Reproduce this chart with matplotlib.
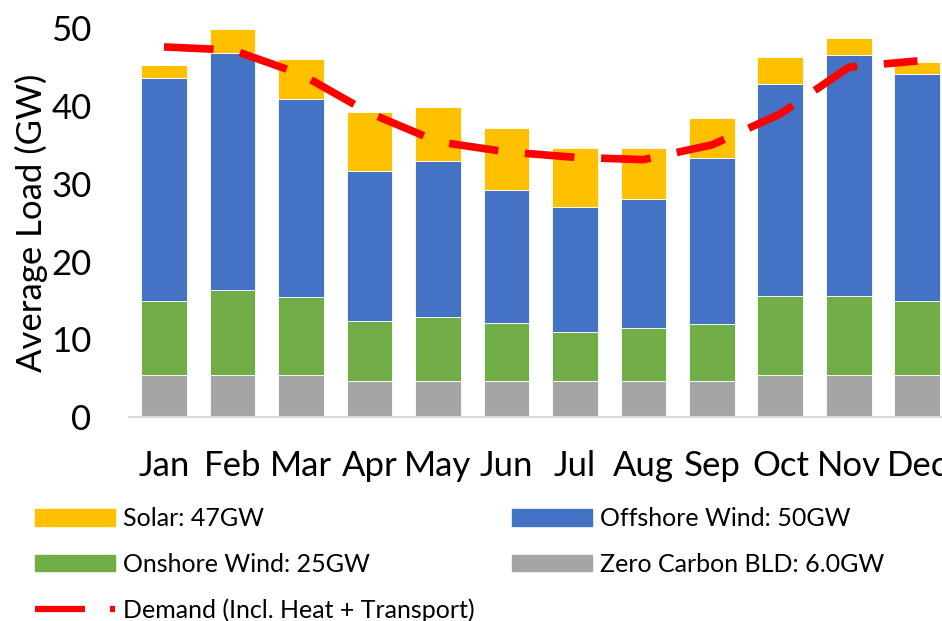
import numpy as np
import matplotlib
matplotlib.use("Agg")
import matplotlib.pyplot as plt
from matplotlib.patches import Patch
from matplotlib.lines import Line2D

plt.rcParams['font.family'] = ['Lato', 'DejaVu Sans']

# Monthly average load (GW), stacked segments
months = ["Jan", "Feb", "Mar", "Apr", "May", "Jun", "Jul", "Aug", "Sep", "Oct", "Nov", "Dec"]
zero_carbon = [5.4, 5.4, 5.4, 4.6, 4.6, 4.6, 4.6, 4.6, 4.6, 5.4, 5.4, 5.4]
onshore = [9.5, 10.9, 10.0, 7.8, 8.3, 7.5, 6.3, 6.8, 7.3, 10.2, 10.2, 9.5]
offshore = [28.7, 30.5, 25.5, 19.2, 20.0, 17.1, 16.1, 16.6, 21.4, 27.2, 30.9, 29.2]
solar = [1.7, 3.1, 5.1, 7.6, 7.0, 8.0, 7.6, 6.6, 5.2, 3.5, 2.2, 1.5]
demand = [47.6, 47.2, 44.1, 39.1, 35.4, 34.1, 33.4, 33.1, 35.0, 39.0, 45.0, 45.8]

colors = ["#A5A5A5", "#70AD47", "#4472C4", "#FFC000"]

fig = plt.figure(figsize=(9.42, 6.21), dpi=100)
ax = fig.add_axes([0.137, 0.3285, 0.874, 0.626])

x = np.arange(len(months))
bottom = np.zeros(len(months))
for vals, col in zip([zero_carbon, onshore, offshore, solar], colors):
    ax.bar(x, vals, 0.67, bottom=bottom, color=col, edgecolor="white", linewidth=0.6)
    bottom += np.array(vals)

ax.plot(x, demand, color="#FF0000", lw=5.5, dashes=(6.5, 3.5), solid_capstyle="butt")

ax.set_xlim(-0.51, 11.51)
ax.set_ylim(0, 50)
ax.set_yticks([0, 10, 20, 30, 40, 50])
ax.set_xticks(x)
ax.set_xticklabels(months)
ax.tick_params(axis="both", length=0, labelsize=25, colors="black")
ax.tick_params(axis="x", pad=24)
ax.tick_params(axis="y", pad=27)
ax.set_ylabel("Average Load (GW)", fontsize=25, labelpad=2)

for s in ["top", "right", "left"]:
    ax.spines[s].set_visible(False)
ax.spines["bottom"].set_color("#D9D9D9")
ax.spines["bottom"].set_linewidth(1.5)

# legend, column-wise order
handles = [
    Patch(color="#FFC000"),
    Patch(color="#70AD47"),
    Line2D([], [], color="#FF0000", lw=4.5, dashes=(8, 4)),
    Patch(color="#4472C4"),
    Patch(color="#A5A5A5"),
]
leg_labels = ["Solar: 47GW", "Onshore Wind: 25GW", "Demand (Incl. Heat + Transport)",
              "Offshore Wind: 50GW", "Zero Carbon BLD: 6.0GW"]
fig.legend(handles, leg_labels, ncol=2, loc="upper left", bbox_to_anchor=(0.037, 0.183),
           frameon=False, fontsize=18, handlelength=3.2, handleheight=0.64,
           handletextpad=0.32, labelspacing=0.9, columnspacing=1.5,
           borderaxespad=0, borderpad=0)

fig.savefig("out.png", dpi=100)
